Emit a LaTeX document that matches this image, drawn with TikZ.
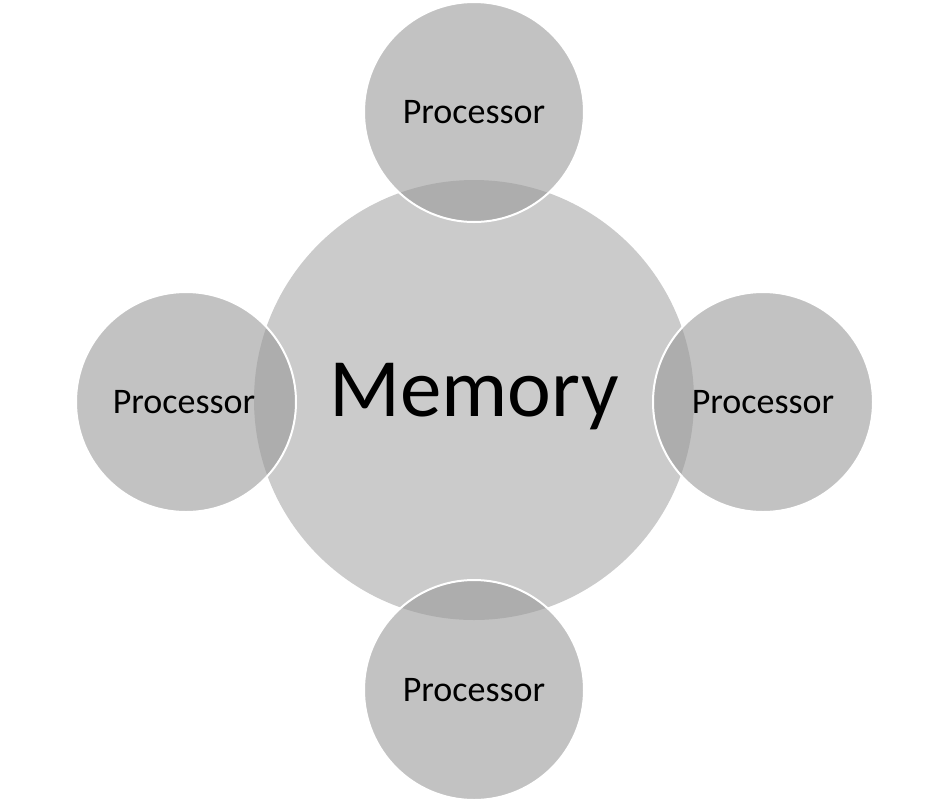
\documentclass[tikz,border=0pt]{standalone}
\usepackage{fontspec}
\setmainfont{Carlito}
\definecolor{memfill}{RGB}{203,203,203}
\definecolor{procfill}{RGB}{154,154,154}
\begin{document}
\begin{tikzpicture}[x=1pt,y=-1pt,
  mem/.style={circle,fill=memfill,minimum size=440pt,inner sep=0pt},
  proc/.style={circle,fill=procfill,fill opacity=0.6,draw=white,line width=2pt,minimum size=220pt,inner sep=0pt},
  plabel/.style={font=\fontsize{36}{40}\selectfont},
  mlabel/.style={font=\fontsize{83}{90}\selectfont}]
\useasboundingbox (0,0) rectangle (948,804);
\node[mem] (memory) at (474,400) {};
\node[proc] (ptop) at (474,112) {};
\node[proc] (pbottom) at (474,690) {};
\node[proc] (pleft) at (186,402) {};
\node[proc] (pright) at (763,402) {};
\node[mlabel] (memlabel) at (474,397) {Memory};
\node[plabel] (ltop) at (474,112) {Processor};
\node[plabel] (lbottom) at (474,690) {Processor};
\node[plabel] (lleft) at (184,402) {Processor};
\node[plabel] (lright) at (763,402) {Processor};
\end{tikzpicture}
\end{document}
